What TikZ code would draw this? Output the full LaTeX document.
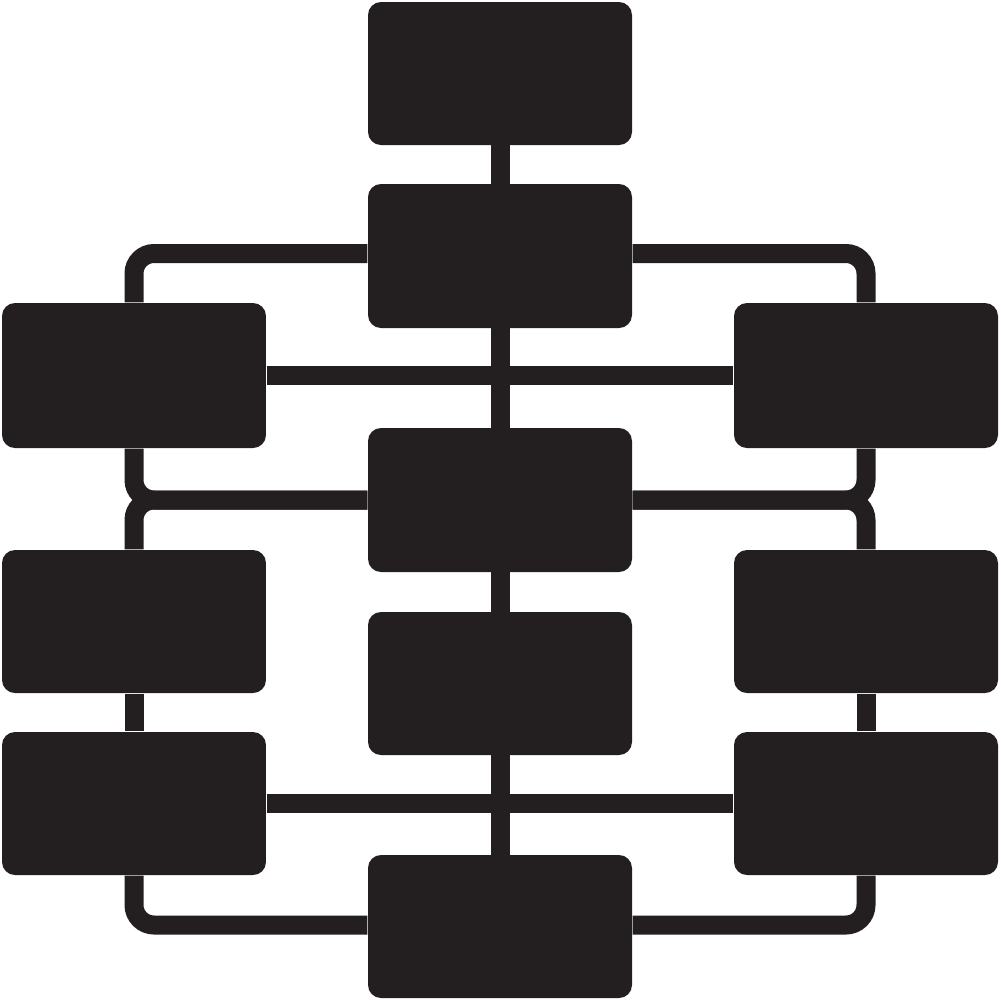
\documentclass[tikz,border=0pt]{standalone}
\usetikzlibrary{backgrounds}
\definecolor{ink}{RGB}{35,31,32}
\begin{document}
\begin{tikzpicture}[x=0.1mm,y=-0.1mm,
  blk/.style={rectangle,fill=ink,draw=none,rounded corners=1.3mm,inner sep=0pt,
              minimum width=26.4mm,minimum height=14.4mm},
  wire/.style={draw=ink,line width=1.9mm,rounded corners=2mm}]
\useasboundingbox (0,0) rectangle (1000,1000);
% centre column
\node[blk,minimum height=14.3mm] (T1) at (500,73.5) {};
\node[blk] (C2) at (500,256) {};
\node[blk] (C3) at (500,500) {};
\node[blk,minimum height=14.3mm] (C4) at (500,683.5) {};
\node[blk,minimum height=14.3mm] (C5) at (500,926.5) {};
% left column
\node[blk,minimum height=14.5mm] (L1) at (134,375.5) {};
\node[blk,minimum height=14.3mm] (L2) at (134,621.5) {};
\node[blk,minimum height=14.3mm] (L3) at (134,803.5) {};
% right column
\node[blk,minimum height=14.5mm] (R1) at (866,375.5) {};
\node[blk,minimum height=14.3mm] (R2) at (866,621.5) {};
\node[blk,minimum height=14.3mm] (R3) at (866,803.5) {};
\begin{scope}[on background layer]
  \draw[wire] (T1.center) -- (C2.center) -- (C3.center) -- (C4.center) -- (C5.center);
  \draw[wire] ([yshift=0.25mm]C2.west) -| (L1.north);
  \draw[wire] ([yshift=0.25mm]C2.east) -| (R1.north);
  \draw[wire] (L1.east) -- (R1.west);
  \draw[wire] (L1.south) |- (C3.west);
  \draw[wire] (L2.north) |- (C3.west);
  \draw[wire] (R1.south) |- (C3.east);
  \draw[wire] (R2.north) |- (C3.east);
  \draw[wire] (L2.south) -- (L3.north);
  \draw[wire] (R2.south) -- (R3.north);
  \draw[wire] (L3.east) -- (R3.west);
  \draw[wire] (L3.south) |- ([yshift=0.15mm]C5.west);
  \draw[wire] (R3.south) |- ([yshift=0.15mm]C5.east);
\end{scope}
\end{tikzpicture}
\end{document}
